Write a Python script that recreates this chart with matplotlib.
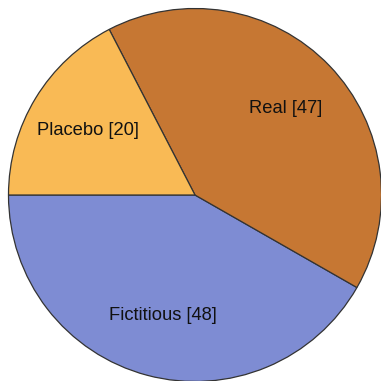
import matplotlib
matplotlib.use("Agg")
import matplotlib.pyplot as plt

categories = ["Fictitious", "Real", "Placebo"]
values = [48, 47, 20]
colors = ["#7E8CD3", "#C67733", "#F9BA55"]

plt.rcParams['font.family'] = ['Liberation Sans', 'DejaVu Sans']

fig = plt.figure(figsize=(3.81, 3.81), dpi=100)
ax = fig.add_axes([0, 0, 1, 1])
labels = [f"{c} [{v}]" for c, v in zip(categories, values)]
ax.pie(values, labels=labels, colors=colors, startangle=180, counterclock=True,
       labeldistance=0.67, radius=1.0,
       wedgeprops=dict(edgecolor="#333333", linewidth=0.9),
       textprops=dict(fontsize=13.2, color="#111111", ha="center", va="center"))
r_px = 186.5
cx, cy = 195.0, 381 - 195.0
span = 381 / r_px
ax.set_xlim(-cx / r_px, -cx / r_px + span)
ax.set_ylim(-cy / r_px, -cy / r_px + span)
ax.set_aspect('auto')
ax.axis('off')
fig.savefig("out.png", dpi=100)
